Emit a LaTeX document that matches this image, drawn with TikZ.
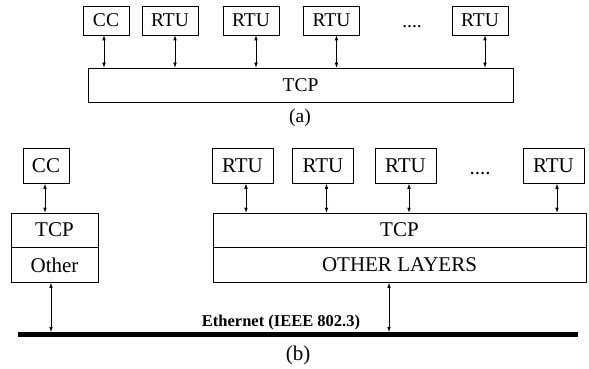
\documentclass[tikz,border=0pt]{standalone}
\usepackage{fontspec}
\setmainfont{Liberation Serif}
\usetikzlibrary{arrows.meta}

\begin{document}
\begin{tikzpicture}[x=1pt, y=-1pt,
    boxa/.style={draw, line width=0.6pt, inner sep=0pt, minimum height=29pt, font=\fontsize{19.5}{21}\selectfont},
    boxb/.style={draw, line width=0.6pt, inner sep=0pt, minimum height=35pt, font=\fontsize{21}{23}\selectfont},
    link/.style={{Latex[length=5pt,width=3.5pt]}-{Latex[length=5pt,width=3.5pt]}, line width=0.6pt}]
      \useasboundingbox (0,0) rectangle (589,369);

      % Nodes (a)
      \node[boxa, minimum width=46pt] (ccA) at (106,20.5) {CC};
      \node[boxa, minimum width=56pt] (rtuA1) at (170,20.5) {RTU};
      \node[boxa, minimum width=56pt] (rtuA2) at (251,20.5) {RTU};
      \node[boxa, minimum width=56pt] (rtuA3) at (331.5,20.5) {RTU};
      \node[font=\fontsize{19.5}{21}\selectfont] (dotsA) at (412,27) {....};
      \node[boxa, minimum width=56pt] (rtuA4) at (480,20.5) {RTU};
      \node[boxa, minimum width=425pt, minimum height=34pt] (tcpA) at (300.5,85) {TCP};
      \node[font=\fontsize{19.5}{21}\selectfont] (capA) at (300,118) {(a)};

      % Arrows (a)
      \draw[link] ([xshift=-2pt]ccA.south) -- ([xshift=-2pt]ccA.south |- tcpA.north);
      \foreach \n in {rtuA1, rtuA2, rtuA3, rtuA4}
        \draw[link] ([xshift=5pt]\n.south) -- ([xshift=5pt]\n.south |- tcpA.north);

      % Nodes (b)
      \node[boxb, minimum width=46pt] (ccB) at (46,166) {CC};
      \node[boxb, minimum width=87pt, minimum height=34pt] (tcpB) at (54.5,230) {TCP};
      \node[boxb, minimum width=87pt, anchor=north] (otherB) at (tcpB.south) {Other};
      \node[boxb, minimum width=61pt] (rtuB1) at (242.5,166) {RTU};
      \node[boxb, minimum width=61pt] (rtuB2) at (323,166) {RTU};
      \node[boxb, minimum width=61pt] (rtuB3) at (405.5,166) {RTU};
      \node[font=\fontsize{21}{23}\selectfont] (dotsB) at (480,174) {....};
      \node[boxb, minimum width=61pt] (rtuB4) at (553.5,166) {RTU};
      \node[boxb, minimum width=373pt, minimum height=34pt] (tcpC) at (399.5,230) {TCP};
      \node[boxb, minimum width=373pt, anchor=north] (layersC) at (tcpC.south) {OTHER LAYERS};

      % Ethernet
      \coordinate (ethL) at (18,334.5);
      \coordinate (ethR) at (578,334.5);
      \draw[line width=5pt] (ethL) -- (ethR);
      \node[font=\fontsize{16.5}{18}\selectfont\bfseries, anchor=south, inner sep=1pt] (ethLbl) at (281,331) {Ethernet (IEEE 802.3)};
      \node[font=\fontsize{21}{23}\selectfont] (capB) at (298,355) {(b)};

      % Arrows (b)
      \draw[link] ([xshift=-1pt]ccB.south) -- ([xshift=-1pt]ccB.south |- tcpB.north);
      \foreach \n in {rtuB1, rtuB2, rtuB3, rtuB4}
        \draw[link] ([xshift=3.5pt]\n.south) -- ([xshift=3.5pt]\n.south |- tcpC.north);
      \draw[link, shorten >=2.5pt] ([xshift=-3.5pt]otherB.south) -- ([xshift=-3.5pt]otherB.south |- ethL);
      \draw[link, shorten >=2.5pt] ([xshift=-10.5pt]layersC.south) -- ([xshift=-10.5pt]layersC.south |- ethL);
    \end{tikzpicture}
\end{document}
